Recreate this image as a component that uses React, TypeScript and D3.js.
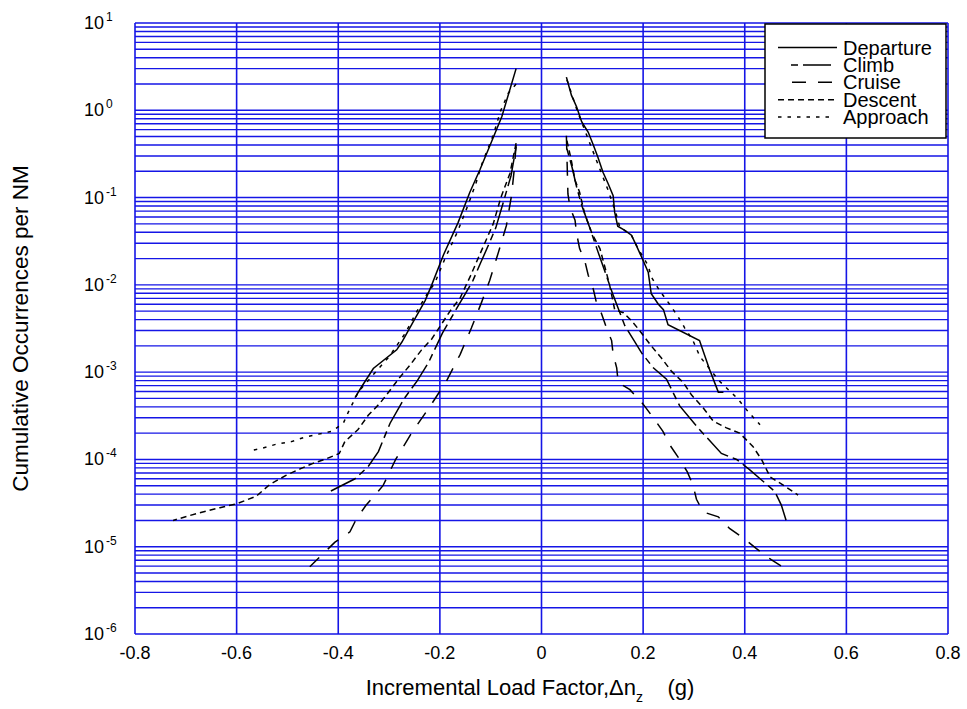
import React from 'react';
import * as d3 from 'd3';

const W = 967;
const H = 709;
const PL = 135, PR = 948, PT = 23, PB = 634;

const xTicks = [-0.8, -0.6, -0.4, -0.2, 0, 0.2, 0.4, 0.6, 0.8];
const xTickLabels = ['-0.8', '-0.6', '-0.4', '-0.2', '0', '0.2', '0.4', '0.6', '0.8'];
const yExponents = [1, 0, -1, -2, -3, -4, -5, -6];
const seriesNames = ['Departure', 'Climb', 'Cruise', 'Descent', 'Approach'];

// Departure
const departureNegX = [-0.050, -0.078, -0.101, -0.121, -0.141, -0.164, -0.193, -0.216, -0.229, -0.249, -0.275, -0.285, -0.331, -0.354, -0.367];
const departureNegY = [3.0, 0.85, 0.40, 0.21, 0.115, 0.052, 0.022, 0.010, 0.0066, 0.0041, 0.0022, 0.0018, 0.0011, 6.8e-4, 5.1e-4];
const departurePosX = [0.049, 0.059, 0.069, 0.079, 0.092, 0.102, 0.111, 0.121, 0.131, 0.141, 0.144, 0.150, 0.164, 0.177, 0.187, 0.200, 0.210, 0.216, 0.230, 0.240, 0.249, 0.311, 0.330, 0.348, 0.358];
const departurePosY = [2.4, 1.48, 1.1, 0.74, 0.56, 0.40, 0.29, 0.195, 0.145, 0.105, 0.068, 0.047, 0.042, 0.037, 0.028, 0.019, 0.014, 0.0079, 0.006, 0.0052, 0.0035, 0.0023, 0.0011, 5.9e-4, 5.9e-4];

// Climb
const climbNegX = [-0.05, -0.06, -0.075, -0.09, -0.105, -0.12, -0.135, -0.15, -0.17, -0.195, -0.222, -0.245, -0.27, -0.298, -0.321, -0.341, -0.367, -0.423];
const climbNegY = [0.38, 0.178, 0.089, 0.045, 0.028, 0.0178, 0.0112, 0.0079, 0.005, 0.0028, 0.0013, 7.9e-4, 5.0e-4, 2.6e-4, 1.23e-4, 8.3e-5, 6.0e-5, 4.1e-5];
const climbPosX = [0.05, 0.06, 0.07, 0.08, 0.095, 0.11, 0.125, 0.14, 0.164, 0.197, 0.22, 0.246, 0.272, 0.311, 0.354, 0.384, 0.41, 0.459, 0.472, 0.482];
const climbPosY = [0.363, 0.224, 0.126, 0.079, 0.045, 0.025, 0.0141, 0.0079, 0.0034, 0.00166, 0.00112, 8.3e-4, 4.1e-4, 2.2e-4, 1.17e-4, 1.0e-4, 7.6e-5, 4.3e-5, 3.0e-5, 1.95e-5];

// Cruise
const cruiseNegX = [-0.05, -0.054, -0.059, -0.069, -0.085, -0.102, -0.118, -0.138, -0.16, -0.187, -0.22, -0.256, -0.287, -0.312, -0.345, -0.364, -0.377, -0.407, -0.43, -0.456];
const cruiseNegY = [0.40, 0.2, 0.106, 0.048, 0.0234, 0.0112, 0.0063, 0.0032, 0.0016, 7.9e-4, 4.0e-4, 2.0e-4, 1.0e-4, 5.0e-5, 3.0e-5, 2.1e-5, 1.48e-5, 1.12e-5, 8.3e-6, 5.9e-6];
const cruisePosX = [0.049, 0.052, 0.056, 0.066, 0.069, 0.075, 0.085, 0.092, 0.102, 0.108, 0.118, 0.128, 0.138, 0.141, 0.148, 0.151, 0.174, 0.2, 0.22, 0.239, 0.252, 0.272, 0.287, 0.298, 0.305, 0.318, 0.348, 0.37, 0.397, 0.423, 0.452, 0.482];
const cruisePosY = [0.51, 0.11, 0.078, 0.055, 0.039, 0.026, 0.019, 0.0129, 0.0089, 0.0063, 0.0047, 0.0032, 0.0023, 0.0016, 0.00112, 7.6e-4, 6.3e-4, 4.3e-4, 3.0e-4, 2.1e-4, 1.48e-4, 1.0e-4, 7.2e-5, 5.1e-5, 3.5e-5, 2.5e-5, 2.2e-5, 1.62e-5, 1.26e-5, 9.5e-6, 7.1e-6, 5.5e-6];

// Descent
const descentNegX = [-0.05, -0.062, -0.08, -0.095, -0.11, -0.125, -0.14, -0.16, -0.18, -0.216, -0.236, -0.259, -0.279, -0.298, -0.318, -0.341, -0.361, -0.387, -0.398, -0.423, -0.452, -0.475, -0.502, -0.534, -0.561, -0.6, -0.633, -0.679, -0.725];
const descentNegY = [0.42, 0.19, 0.1, 0.05, 0.0316, 0.02, 0.0126, 0.0071, 0.005, 0.0024, 0.0018, 0.0012, 8.7e-4, 6.2e-4, 4.4e-4, 3.2e-4, 2.2e-4, 1.6e-4, 1.17e-4, 1.02e-4, 8.9e-5, 7.8e-5, 6.6e-5, 5.2e-5, 3.8e-5, 3.1e-5, 2.8e-5, 2.4e-5, 2.0e-5];
const descentPosX = [0.05, 0.058, 0.066, 0.075, 0.085, 0.1, 0.115, 0.125, 0.134, 0.144, 0.161, 0.177, 0.193, 0.216, 0.236, 0.256, 0.279, 0.295, 0.318, 0.338, 0.364, 0.39, 0.416, 0.433, 0.45, 0.475, 0.505];
const descentPosY = [0.45, 0.28, 0.158, 0.115, 0.065, 0.038, 0.026, 0.0158, 0.01, 0.0052, 0.0048, 0.0039, 0.003, 0.002, 0.00145, 0.00102, 7.6e-4, 5.5e-4, 3.9e-4, 2.75e-4, 2.3e-4, 2.0e-4, 1.41e-4, 1.0e-4, 6.3e-5, 5.1e-5, 3.9e-5];

// Approach
const approachNegX = [-0.05, -0.065, -0.08, -0.096, -0.117, -0.13, -0.145, -0.165, -0.19, -0.21, -0.225, -0.245, -0.268, -0.3, -0.33, -0.36, -0.38, -0.39, -0.413, -0.439, -0.466, -0.492, -0.521, -0.548, -0.574];
const approachNegY = [2.0, 1.58, 1.0, 0.50, 0.245, 0.14, 0.081, 0.041, 0.020, 0.0105, 0.0079, 0.005, 0.0028, 0.0015, 9.5e-4, 6.0e-4, 3.5e-4, 2.6e-4, 2.1e-4, 1.95e-4, 1.8e-4, 1.6e-4, 1.5e-4, 1.35e-4, 1.25e-4];
const approachPosX = [0.05, 0.07, 0.09, 0.11, 0.13, 0.145, 0.154, 0.177, 0.19, 0.21, 0.216, 0.233, 0.252, 0.269, 0.282, 0.298, 0.312, 0.35, 0.387, 0.407, 0.43];
const approachPosY = [2.24, 1.0, 0.5, 0.25, 0.126, 0.071, 0.046, 0.037, 0.026, 0.0166, 0.0123, 0.0085, 0.006, 0.0043, 0.0032, 0.0023, 0.0015, 7.9e-4, 4.9e-4, 3.5e-4, 2.5e-4];

const branches = [
  { name: 'Departure', x: departureNegX, y: departureNegY },
  { name: 'Departure', x: departurePosX, y: departurePosY },
  { name: 'Climb', x: climbNegX, y: climbNegY },
  { name: 'Climb', x: climbPosX, y: climbPosY },
  { name: 'Cruise', x: cruiseNegX, y: cruiseNegY },
  { name: 'Cruise', x: cruisePosX, y: cruisePosY },
  { name: 'Descent', x: descentNegX, y: descentNegY },
  { name: 'Descent', x: descentPosX, y: descentPosY },
  { name: 'Approach', x: approachNegX, y: approachNegY },
  { name: 'Approach', x: approachPosX, y: approachPosY },
];

const dashes: Record<string, string> = {
  Departure: 'none',
  Climb: '7,5,28,5',
  Cruise: '14,12',
  Descent: '6,4',
  Approach: '3.5,6',
};

const FONT = '"Liberation Sans", Arial, Helvetica, sans-serif';
const GRID = '#1515e6';

export default function App() {
  const x = d3.scaleLinear().domain([-0.8, 0.8]).range([PL, PR]);
  const y = d3.scaleLog().domain([1e-6, 10]).range([PB, PT]);

  const minor: number[] = [];
  for (let e = -6; e <= 0; e++) {
    for (let m = 1; m <= 9; m++) minor.push(m * Math.pow(10, e));
  }
  minor.push(10);

  const line = d3
    .line<[number, number]>()
    .x((d) => x(d[0]))
    .y((d) => y(d[1]));

  const legendRows = [47.5, 64.9, 82.3, 99.7, 117.1];
  const legendSample: Record<string, [number, number]> = {
    Departure: [778, 837],
    Climb: [791, 835],
    Cruise: [792, 833],
    Descent: [778, 837],
    Approach: [778, 835],
  };

  return (
    <svg width={W} height={H} style={{ display: 'block', position: 'absolute', left: 0, top: 0, background: '#fff' }}>
      <rect x={0} y={0} width={W} height={H} fill="#fff" />
      {minor.map((v, i) => (
        <line key={'h' + i} x1={PL} x2={PR} y1={y(v)} y2={y(v)} stroke={GRID} strokeWidth={1.4} />
      ))}
      {xTicks.map((t, i) => (
        <line key={'v' + i} x1={x(t)} x2={x(t)} y1={PT} y2={PB} stroke={GRID} strokeWidth={1.6} />
      ))}
      {branches.map((b, i) => (
        <path
          key={'s' + i}
          d={line(b.x.map((xv, j) => [xv, b.y[j]] as [number, number])) || ''}
          fill="none"
          stroke="#000"
          strokeWidth={1.5}
          strokeDasharray={dashes[b.name]}
        />
      ))}
      {xTicks.map((t, i) => (
        <text key={'xt' + i} x={x(t)} y={PB + 25} textAnchor="middle" fontFamily={FONT} fontSize={18} fill="#000">
          {xTickLabels[i]}
        </text>
      ))}
      {yExponents.map((e, i) => (
        <text key={'yt' + i} x={104} y={y(Math.pow(10, e)) + 6} textAnchor="end" fontFamily={FONT} fontSize={18} fill="#000">
          10
          <tspan x={106} dy={-8} textAnchor="start" fontSize={12}>{String(e)}</tspan>
        </text>
      ))}
      <text x={530} y={PB + 61} textAnchor="middle" fontFamily={FONT} fontSize={22} fill="#000" xmlSpace="preserve">
        Incremental Load Factor,Δn<tspan dy={7} fontSize={14}>z</tspan><tspan dy={-7}>{'    (g)'}</tspan>
      </text>
      <text
        x={0}
        y={0}
        transform={`translate(28, ${(PT + PB) / 2}) rotate(-90)`}
        textAnchor="middle"
        fontFamily={FONT}
        fontSize={22.5}
        fill="#000"
      >
        Cumulative Occurrences per NM
      </text>
      <rect x={765} y={24} width={181} height={114} fill="#fff" stroke="#000" strokeWidth={1.5} />
      {seriesNames.map((n, i) => (
        <g key={'lg' + i}>
          <line
            x1={legendSample[n][0]}
            x2={legendSample[n][1]}
            y1={legendRows[i]}
            y2={legendRows[i]}
            stroke="#000"
            strokeWidth={1.5}
            strokeDasharray={dashes[n]}
          />
          <text x={843} y={legendRows[i] + 7} fontFamily={FONT} fontSize={20} fill="#000">
            {n}
          </text>
        </g>
      ))}
    </svg>
  );
}
